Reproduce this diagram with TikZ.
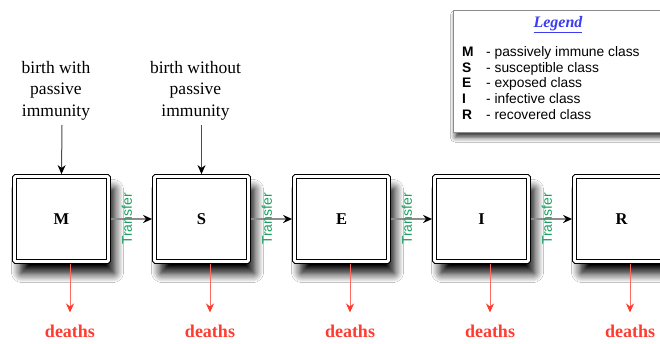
\documentclass[tikz,border=0pt]{standalone}
\usepackage{fontspec}
\setmainfont{Liberation Serif}
\setsansfont{Liberation Sans}
\usetikzlibrary{arrows.meta,shadows.blur}
\definecolor{trgreen}{HTML}{1F9E62}
\definecolor{dred}{HTML}{FF3B2F}
\definecolor{dredl}{HTML}{FF6A5E}
\definecolor{legblue}{HTML}{3C3CF0}
\begin{document}
\begin{tikzpicture}[x=1pt,y=-1pt,
  compbox/.style={draw=black, double=white, double distance=2.6pt, line width=1.1pt,
    fill=white, minimum width=94pt, minimum height=85pt, inner sep=0pt, outer sep=2.4pt,
    rounded corners=1pt,
    blur shadow={shadow xshift=6pt, shadow yshift=-12pt, shadow blur radius=9pt, shadow opacity=100, shadow blur steps=12},
    font=\fontsize{16.5}{18}\selectfont\bfseries},
  birthtext/.style={align=center, inner sep=0pt, font=\fontsize{17.5}{21.5}\selectfont},
  toparrow/.style={draw=black!70, line width=1pt, -{Stealth[length=9pt,width=8pt,color=black,fill=black]}},
  trarrow/.style={draw=black!45, line width=1.5pt, -{Stealth[length=9pt,width=8pt,color=black,fill=black]}},
  trlabel/.style={rotate=90, text=trgreen, inner sep=0pt, font=\sffamily\fontsize{14}{16}\selectfont},
  deatharrow/.style={draw=dredl, line width=1pt, -{Stealth[length=9pt,width=8pt,color=dred,fill=dred]}, shorten >=12pt},
  deathtext/.style={text=dred, inner sep=0pt, font=\fontsize{18}{20}\selectfont\bfseries},
  legbox/.style={draw=black!45, line width=0.6pt, fill=white, minimum width=240pt, minimum height=122pt,
    blur shadow={shadow xshift=2pt, shadow yshift=-5pt, shadow blur radius=5pt, shadow opacity=80}},
  legkey/.style={anchor=base west, inner sep=0pt, font=\sffamily\bfseries\fontsize{13.8}{16}\selectfont},
  legdesc/.style={anchor=base west, inner sep=0pt, font=\sffamily\fontsize{13.8}{16}\selectfont}
]
\useasboundingbox (0,0) rectangle (660,343);
\clip (0,0) rectangle (660,343);
\fill[white] (0,0) rectangle (660,343);

% legend
\node[legbox, anchor=north west] (legend) at (453,10) {};
\node[text=legblue, inner sep=0pt, font=\fontsize{16}{18}\selectfont\bfseries\itshape] (legtitle) at (558,25) {\underline{Legend}};
\node[legkey] (kM) at (462,56.5) {M};
\node[legdesc] (dM) at (486,56.5) {- passively immune class};
\node[legkey] (kS) at (462,72.2) {S};
\node[legdesc] (dS) at (486,72.2) {- susceptible class};
\node[legkey] (kE) at (462,87.9) {E};
\node[legdesc] (dE) at (486,87.9) {- exposed class};
\node[legkey] (kI) at (462,103.6) {I};
\node[legdesc] (dI) at (486,103.6) {- infective class};
\node[legkey] (kR) at (462,119.3) {R};
\node[legdesc] (dR) at (486,119.3) {- recovered class};

% compartments
\node[compbox] (M) at (61.5,219) {M};
\node[compbox] (S) at (201.5,219) {S};
\node[compbox] (E) at (341.5,219) {E};
\node[compbox] (I) at (481.5,219) {I};
\node[compbox] (R) at (621.5,219) {R};

% births
\node[birthtext] (b1) at (56,90.5) {birth with\\passive\\immunity};
\node[birthtext] (b2) at (195.5,90.5) {birth without\\passive\\immunity};
\coordinate (a1) at (62,125);
\coordinate (a2) at (201.5,125);
\draw[toparrow] (a1) -- (M.north);
\draw[toparrow] (a2) -- (S.north);

% transfers
\draw[trarrow] (M.east) -- node[pos=0.39, trlabel] {Transfer} (S.west);
\draw[trarrow] (S.east) -- node[pos=0.39, trlabel] {Transfer} (E.west);
\draw[trarrow] (E.east) -- node[pos=0.39, trlabel] {Transfer} (I.west);
\draw[trarrow] (I.east) -- node[pos=0.39, trlabel] {Transfer} (R.west);

% deaths
\foreach \b/\x in {M/70,S/210,E/350,I/490,R/630}{
  \node[deathtext] (d\b) at (\x,331) {deaths};
  \draw[deatharrow] (\b.south -| d\b.north) -- (d\b.north);
}
\end{tikzpicture}
\end{document}
